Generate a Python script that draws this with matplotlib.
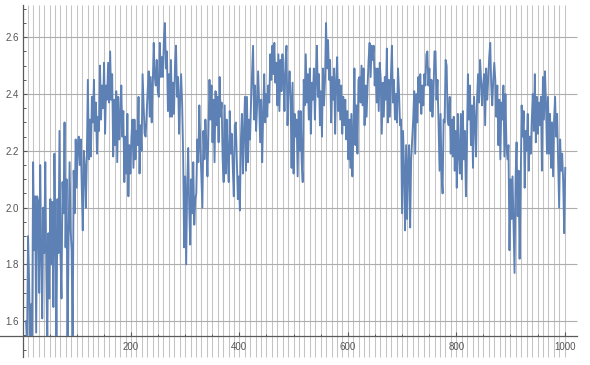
import matplotlib
matplotlib.use("Agg")
import matplotlib.pyplot as plt
import numpy as np
from matplotlib.patches import Rectangle

# values, left to right (about 1.9 x-units apart)
seg_a = [1.60, 1.52, 1.90, 1.75, 1.51, 1.66, 1.52, 2.16, 1.85, 2.04, 1.56, 2.04, 2.02, 1.70, 2.15,
         1.84, 1.61, 2.00, 1.84, 2.16, 1.78, 1.53, 1.91, 1.68, 2.03, 1.80, 2.02, 1.65, 2.19, 1.91,
         1.53, 2.03, 1.84, 2.27, 1.84, 1.68, 2.09, 1.98, 2.30, 1.86, 2.10, 1.54, 1.89, 2.16, 1.92,
         1.85, 1.52, 2.13, 1.98, 2.24, 2.07, 2.22, 2.25, 2.15, 2.24, 2.07, 1.92, 2.20, 2.15]
seg_b = [2.00, 2.18, 2.45, 2.17, 2.31, 2.18, 2.39, 2.30, 2.45, 2.27, 2.37, 2.19, 2.32, 2.27, 2.50,
         2.31, 2.43, 2.35, 2.51, 2.26, 2.43, 2.38, 2.51, 2.37, 2.55, 2.38, 2.47, 2.18, 2.38, 2.22,
         2.41, 2.16, 2.39, 2.24, 2.32, 2.43, 2.25, 2.34, 2.09, 2.25, 2.12, 2.33, 2.04, 2.22, 2.12,
         2.25, 2.31, 2.14, 2.31, 2.17, 2.27, 2.22, 2.39, 2.12, 2.29, 2.20, 2.47, 2.36, 2.26, 2.25,
         2.33, 2.41, 2.48, 2.32, 2.46, 2.30, 2.43, 2.58]
seg_c = [2.46, 2.43, 2.52, 2.41, 2.39, 2.58, 2.46, 2.53, 2.46, 2.59, 2.65, 2.49, 2.55, 2.34, 2.47,
         2.32, 2.52, 2.32, 2.44, 2.33, 2.50, 2.57, 2.39, 2.46, 2.26, 2.38, 2.47, 2.37, 2.19, 1.86,
         2.11, 1.80, 2.07, 2.21, 2.00, 1.87, 2.10, 1.98, 2.16, 1.94, 2.03, 2.05, 2.24, 2.16, 2.36,
         2.22, 2.11, 2.00, 2.27, 2.17, 2.31, 2.22, 2.11, 2.27, 2.45, 2.31, 2.43, 2.23, 2.38, 2.16,
         2.41, 2.29, 2.39, 2.23, 2.46, 2.32, 2.37, 2.17]
seg_d = [2.09, 2.36, 2.12, 2.31, 2.18, 2.09, 2.34, 2.19, 2.26, 2.14, 2.04, 2.29, 2.30, 2.16, 2.03,
         2.11, 1.99, 2.24, 2.33, 2.12, 2.27, 2.39, 2.13, 2.39, 2.16, 2.31, 2.24, 2.37, 2.47, 2.57,
         2.31, 2.43, 2.27, 2.36, 2.48, 2.37, 2.23, 2.38, 2.16, 2.33, 2.47, 2.30, 2.40, 2.32, 2.43,
         2.37, 2.54, 2.45, 2.57, 2.47, 2.58, 2.44, 2.51, 2.36, 2.54, 2.34, 2.52, 2.41, 2.54, 2.46,
         2.34, 2.51, 2.57, 2.29, 2.41, 2.48, 2.39]
seg_e = [2.14, 2.44, 2.12, 2.33, 2.25, 2.31, 2.11, 2.34, 2.20, 2.34, 2.16, 2.09, 2.45, 2.36, 2.54,
         2.37, 2.47, 2.31, 2.49, 2.26, 2.44, 2.38, 2.49, 2.31, 2.45, 2.57, 2.39, 2.47, 2.29, 2.41,
         2.25, 2.49, 2.36, 2.45, 2.65, 2.49, 2.59, 2.45, 2.52, 2.30, 2.46, 2.38, 2.49, 2.26, 2.44,
         2.53, 2.34, 2.45, 2.31, 2.43, 2.26, 2.39, 2.29, 2.38, 2.24, 2.34, 2.17, 2.31, 2.14, 2.33,
         2.11, 2.27, 2.49, 2.22, 2.36, 2.19, 2.45]
seg_f = [2.46, 2.37, 2.50, 2.36, 2.49, 2.29, 2.43, 2.32, 2.43, 2.52, 2.58, 2.46, 2.57, 2.52, 2.57,
         2.43, 2.49, 2.37, 2.49, 2.34, 2.51, 2.45, 2.26, 2.44, 2.32, 2.46, 2.38, 2.56, 2.30, 2.45,
         2.32, 2.46, 2.57, 2.37, 2.45, 2.31, 2.40, 2.30, 2.49, 2.41, 2.29, 2.31, 1.98, 2.27, 2.13,
         1.92, 2.22, 1.96, 2.16, 2.22, 1.93, 2.17, 2.24, 2.31, 2.41, 2.19, 2.40, 2.30, 2.46, 2.37,
         2.47, 2.33, 2.43, 2.36, 2.47, 2.43, 2.54]
seg_g = [2.55, 2.43, 2.49, 2.34, 2.45, 2.32, 2.40, 2.55, 2.55, 2.38, 2.45, 2.30, 2.13, 2.33, 2.12,
         2.05, 2.31, 2.30, 2.52, 2.50, 2.31, 2.29, 2.39, 2.19, 2.31, 2.18, 2.32, 2.13, 2.27, 2.07,
         2.33, 2.19, 2.12, 2.33, 2.10, 2.34, 2.17, 2.27, 2.04, 2.22, 2.47, 2.31, 2.43, 2.22, 2.36,
         2.14, 2.39, 2.31, 2.18, 2.38, 2.47, 2.37, 2.52, 2.45, 2.36, 2.43, 2.47, 2.29, 2.49, 2.38,
         2.45, 2.53, 2.58, 2.43, 2.36, 2.45, 2.51]
seg_h = [2.45, 2.32, 2.43, 2.22, 2.38, 2.17, 2.37, 2.31, 2.43, 2.18, 2.40, 2.22, 2.17, 2.22, 1.85,
         2.10, 1.96, 2.11, 1.94, 1.77, 2.10, 2.23, 1.97, 2.13, 1.82, 2.07, 2.36, 2.25, 2.34, 2.07,
         2.27, 2.20, 2.33, 2.13, 2.25, 2.19, 2.31, 2.40, 2.27, 2.47, 2.23, 2.39, 2.26, 2.37, 2.29,
         2.39, 2.13, 2.46, 2.31, 2.48, 2.37, 2.19, 2.39, 2.19, 2.33, 2.14, 2.30, 2.11, 2.31, 2.39,
         2.25, 2.33, 2.16, 2.00, 2.24, 2.13, 2.19, 2.09, 1.91, 2.14]

y_ticks = [1.6, 1.8, 2.0, 2.2, 2.4, 2.6]
x_ticks = [200, 400, 600, 800, 1000]

values = np.array(seg_a + seg_b + seg_c + seg_d + seg_e + seg_f + seg_g + seg_h)
xs = np.linspace(6.5, 1001, len(values))

fig = plt.figure(figsize=(5.9, 3.65), dpi=100)
ax = fig.add_axes([0, 0, 1, 1])
ax.set_facecolor("white")
ax.set_xlim(-41.5, 1046.7)
ax.set_ylim(1.446, 2.731)

y_axis = 1.548
y_lo, y_hi = 1.474, 2.714

# grid
ax.vlines(np.arange(10, 1001, 10), y_lo, y_hi, colors="#c4c4c4", lw=0.75, zorder=0)
ax.hlines(y_ticks, 0, 1022, colors="#adadad", lw=0.8, zorder=0)

line, = ax.plot(xs, values, color="#5E81B5", lw=1.35, zorder=3)
clip = Rectangle((-50, y_axis), 1200, 2, transform=ax.transData)
line.set_clip_path(clip)

for s in ["top", "right"]:
    ax.spines[s].set_visible(False)
ax.spines["left"].set_position(("data", 0))
ax.spines["left"].set_bounds(y_lo, y_hi)
ax.spines["bottom"].set_position(("data", y_axis))
ax.spines["bottom"].set_bounds(-41.5, 1022)
for s in ["left", "bottom"]:
    ax.spines[s].set_color("#5a5a5a")
    ax.spines[s].set_linewidth(0.9)

ax.set_xticks(x_ticks)
ax.set_xticks(np.arange(50, 1001, 50), minor=True)
ax.set_yticks(y_ticks)
ax.set_yticks(np.arange(1.5, 2.71, 0.05), minor=True)
ax.set_yticklabels([f"{v:.1f}" for v in y_ticks])
ax.tick_params(which="major", direction="in", length=2.9, width=0.8, color="#5a5a5a",
               labelsize=7, labelcolor="#555555")
ax.tick_params(which="minor", direction="in", length=1.8, width=0.7, color="#5a5a5a")
ax.tick_params(axis="y", which="major", pad=2.7)
ax.tick_params(axis="x", which="major", pad=4)
for lab in ax.get_xticklabels() + ax.get_yticklabels():
    lab.set_family("Liberation Sans")

fig.savefig("out.png", dpi=100)
